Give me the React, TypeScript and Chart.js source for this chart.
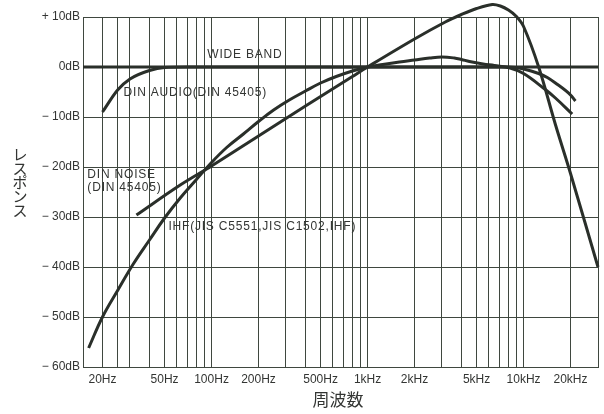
import React, { useEffect, useRef } from "react";
import { Chart, registerables } from "chart.js";

Chart.register(...registerables);

// ---- data ----
const wideFreq = [15, 30000];
const wideDb = [0, 0];

const dinAudioFreq = [20, 25, 30, 40, 50, 70, 100, 1000, 5000, 8000, 10000, 12500, 14200, 16000, 20000, 21500];
const dinAudioDb = [-9, -4.6, -2.4, -0.7, -0.1, 0, 0, 0, 0, 0, -0.4, -1.3, -2.1, -3.2, -5.6, -6.8];

const dinNoiseFreq = [33, 63, 100, 200, 400, 800, 1000, 2000, 3150, 4000, 5000, 6300, 7100, 8000, 9000, 10000, 12500, 16000, 20000, 30000];
const dinNoiseDb = [-29.6, -23.6, -19.8, -13.8, -7.8, -1.9, 0, 5.6, 9.0, 10.5, 11.7, 12.5, 12.2, 11.4, 10.1, 8.1, 0, -11.5, -21.3, -40];

const ihfFreq = [16.3, 20, 25, 31.5, 40, 50, 63, 80, 100, 125, 160, 200, 250, 315, 400, 500, 630, 800, 1000, 1250, 1600, 2000, 2500, 3000, 3600, 4000, 4500, 5500, 6500, 8200, 10000, 13400, 16000, 20500];
const ihfDb = [-56.2, -50, -44.7, -39.4, -34.6, -30.2, -26.2, -22.5, -19.1, -16.1, -13.4, -10.9, -8.6, -6.6, -4.8, -3.2, -1.9, -0.8, 0, 0.5, 1.0, 1.4, 1.8, 2.0, 1.8, 1.5, 1.1, 0.6, 0.3, -0.2, -1.3, -4.2, -6.2, -9.4];

const xGridValues = [15, 20, 25, 30, 40, 50, 60, 70, 80, 90, 100, 200, 300, 400, 500, 600, 700, 800, 900, 1000, 2000, 3000, 4000, 5000, 6000, 7000, 8000, 9000, 10000, 20000, 30000];
const xLabelValues = [20, 50, 100, 200, 500, 1000, 2000, 5000, 10000, 20000];
const xLabelTexts = ["20Hz", "50Hz", "100Hz", "200Hz", "500Hz", "1kHz", "2kHz", "5kHz", "10kHz", "20kHz"];

const yTickValues = [10, 0, -10, -20, -30, -40, -50, -60];
const yTickTexts = ["+ 10dB", "0dB", "− 10dB", "− 20dB", "− 30dB", "− 40dB", "− 50dB", "− 60dB"];

const curveLabels = ["WIDE BAND", "DIN AUDIO(DIN 45405)", "DIN NOISE", "(DIN 45405)", "IHF(JIS C5551,JIS C1502,IHF)"];
const curveLabelFreq = [94, 27.3, 16, 16, 52.9];
const curveLabelDb = [2.4, -5.2, -21.6, -24.2, -32];

const yTitle = "レスポンス";
const xTitle = "周波数";

const INK = "#2a2f2a";
const GRID = "#3f473f";
const TEXT = "#333533";

const pts = (f: number[], d: number[]) => f.map((v, i) => ({ x: v, y: d[i] }));

const textPlugin = {
  id: "textPlugin",
  afterDraw(chart: any) {
    const ctx = chart.ctx;
    const xs = chart.scales.x;
    const ys = chart.scales.y;
    ctx.save();
    ctx.fillStyle = TEXT;
    ctx.font = '12px "Liberation Sans", Arial, sans-serif';
    ctx.textAlign = "left";
    ctx.textBaseline = "middle";
    try { (ctx as any).letterSpacing = "0.8px"; } catch (e) {}
    curveLabels.forEach((t, i) => {
      const px = xs.getPixelForValue(curveLabelFreq[i]);
      const py = ys.getPixelForValue(curveLabelDb[i]);
      ctx.fillText(t, px, py);
    });
    try { (ctx as any).letterSpacing = "0px"; } catch (e) {}
    // y title vertical
    ctx.font = '15px "Noto Sans CJK JP", sans-serif';
    ctx.textAlign = "center";
    const chars = Array.from(yTitle);
    const lh = 14;
    const cy = (ys.top + ys.bottom) / 2 - 10;
    const startY = cy - ((chars.length - 1) * lh) / 2;
    chars.forEach((c, i) => ctx.fillText(c, 20, startY + i * lh));
    // x title
    ctx.font = '17px "Noto Sans CJK JP", sans-serif';
    ctx.fillText(xTitle, 338, 400);
    ctx.restore();
  },
};

export default function App() {
  const ref = useRef<HTMLCanvasElement | null>(null);
  useEffect(() => {
    if (!ref.current) return;
    const ds = (data: any, extra: any = {}) => ({
      data,
      borderColor: INK,
      backgroundColor: INK,
      borderWidth: 3,
      pointRadius: 0,
      fill: false,
      clip: false,
      ...extra,
    });
    const chart = new Chart(ref.current, {
      type: "line",
      data: {
        datasets: [
          ds(pts(wideFreq, wideDb), { label: "WIDE BAND" }),
          ds(pts(dinAudioFreq, dinAudioDb), { label: "DIN AUDIO", cubicInterpolationMode: "monotone" }),
          ds(pts(dinNoiseFreq, dinNoiseDb), { label: "DIN NOISE", tension: 0.35 }),
          ds(pts(ihfFreq, ihfDb), { label: "IHF", tension: 0.4 }),
        ] as any,
      },
      options: {
        animation: false,
        responsive: false,
        devicePixelRatio: 1,
        layout: { padding: { top: 17, right: 6, left: 0, bottom: 0 } },
        plugins: { legend: { display: false }, tooltip: { enabled: false } },
        scales: {
          x: {
            type: "logarithmic",
            min: 15,
            max: 30000,
            afterBuildTicks: (scale: any) => {
              scale.ticks = xGridValues.map((v) => ({ value: v }));
            },
            afterFit: (scale: any) => {
              scale.height = 47;
            },
            grid: { color: GRID, lineWidth: 1, drawTicks: false },
            border: { display: true, color: GRID, width: 1 },
            ticks: {
              autoSkip: false,
              maxRotation: 0,
              minRotation: 0,
              padding: 5,
              color: TEXT,
              font: { family: '"Liberation Sans", Arial, sans-serif', size: 12 },
              callback: (v: any) => {
                const i = xLabelValues.indexOf(Number(v));
                return i >= 0 ? xLabelTexts[i] : "";
              },
            },
          },
          y: {
            type: "linear",
            min: -60,
            max: 10,
            afterBuildTicks: (scale: any) => {
              scale.ticks = yTickValues.map((v) => ({ value: v }));
            },
            afterFit: (scale: any) => {
              scale.width = 83;
            },
            grid: { color: GRID, lineWidth: 1, drawTicks: false },
            border: { display: true, color: GRID, width: 1 },
            ticks: {
              padding: 3,
              color: TEXT,
              font: { family: '"Liberation Sans", Arial, sans-serif', size: 12 },
              callback: (v: any) => {
                const i = yTickValues.indexOf(Number(v));
                return i >= 0 ? yTickTexts[i] : "";
              },
            },
          },
        },
      },
      plugins: [textPlugin],
    } as any);
    return () => chart.destroy();
  }, []);
  return (
    <div style={{ position: "fixed", left: 0, top: 0, width: 604, height: 414, background: "#ffffff" }}>
      <canvas ref={ref} width={604} height={414} style={{ width: 604, height: 414 }} />
    </div>
  );
}
